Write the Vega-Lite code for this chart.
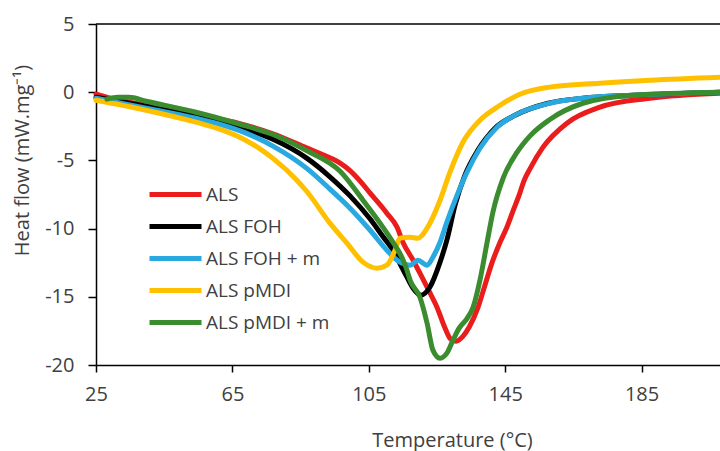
{
  "$schema": "https://vega.github.io/schema/vega-lite/v6.json",
  "width": 624,
  "height": 341,
  "autosize": {"type": "none"},
  "padding": {"left": 96, "top": 24, "right": 0, "bottom": 86},
  "background": "white",
  "config": {
    "view": {"stroke": null},
    "font": "Open Sans",
    "axis": {
      "grid": false,
      "domainColor": "black",
      "domainWidth": 1.5,
      "tickColor": "black",
      "tickWidth": 1.5,
      "labelFlush": false,
      "labelFont": "Open Sans",
      "labelFontSize": 20,
      "labelColor": "#404040",
      "titleFont": "Open Sans",
      "titleFontSize": 20,
      "titleFontWeight": "normal",
      "titleColor": "#404040"
    },
    "legend": {
      "orient": "none",
      "legendX": 51,
      "legendY": 155,
      "symbolType": "M-1,0H3",
      "symbolSize": 676,
      "symbolStrokeWidth": 5,
      "labelOffset": 28,
      "rowPadding": 6,
      "labelFont": "Open Sans",
      "labelFontSize": 19,
      "labelColor": "#404040",
      "title": null
    }
  },
  "layer": [
    {
      "data": {"values": [{"top": 5}]},
      "mark": {"type": "rule", "color": "black", "strokeWidth": 1.5},
      "encoding": {"y": {"field": "top", "type": "quantitative"}}
    },
    {
      "data": {"values": [
        {"s": "ALS", "T": 25, "H": -0.15},
        {"s": "ALS", "T": 29.1, "H": -0.44},
        {"s": "ALS", "T": 39.7, "H": -0.95},
        {"s": "ALS", "T": 54.3, "H": -1.69},
        {"s": "ALS", "T": 67.2, "H": -2.3},
        {"s": "ALS", "T": 76.9, "H": -3.05},
        {"s": "ALS", "T": 86.9, "H": -4.1},
        {"s": "ALS", "T": 93.6, "H": -4.8},
        {"s": "ALS", "T": 96.6, "H": -5.2},
        {"s": "ALS", "T": 99.5, "H": -5.75},
        {"s": "ALS", "T": 102.4, "H": -6.5},
        {"s": "ALS", "T": 105.4, "H": -7.4},
        {"s": "ALS", "T": 110.3, "H": -8.87},
        {"s": "ALS", "T": 113.3, "H": -9.9},
        {"s": "ALS", "T": 115.0, "H": -11.0},
        {"s": "ALS", "T": 118.0, "H": -12.32},
        {"s": "ALS", "T": 120.0, "H": -13.27},
        {"s": "ALS", "T": 122.5, "H": -14.5},
        {"s": "ALS", "T": 125.0, "H": -15.76},
        {"s": "ALS", "T": 127.2, "H": -17.2},
        {"s": "ALS", "T": 129.0, "H": -18.1},
        {"s": "ALS", "T": 130.6, "H": -18.25},
        {"s": "ALS", "T": 132.6, "H": -17.9},
        {"s": "ALS", "T": 134.5, "H": -17.2},
        {"s": "ALS", "T": 137.0, "H": -15.8},
        {"s": "ALS", "T": 139.0, "H": -14.2},
        {"s": "ALS", "T": 141.0, "H": -12.6},
        {"s": "ALS", "T": 143.5, "H": -11.0},
        {"s": "ALS", "T": 145.5, "H": -9.9},
        {"s": "ALS", "T": 147.3, "H": -8.7},
        {"s": "ALS", "T": 149.3, "H": -7.4},
        {"s": "ALS", "T": 150.5, "H": -6.5},
        {"s": "ALS", "T": 152.3, "H": -5.6},
        {"s": "ALS", "T": 156.1, "H": -4.03},
        {"s": "ALS", "T": 163.1, "H": -2.27},
        {"s": "ALS", "T": 172.8, "H": -1.1},
        {"s": "ALS", "T": 187.5, "H": -0.44},
        {"s": "ALS", "T": 208, "H": -0.07},

        {"s": "ALS FOH", "T": 25, "H": -0.37},
        {"s": "ALS FOH", "T": 39.7, "H": -1.03},
        {"s": "ALS FOH", "T": 54.3, "H": -1.76},
        {"s": "ALS FOH", "T": 69.0, "H": -2.7},
        {"s": "ALS FOH", "T": 76.9, "H": -3.45},
        {"s": "ALS FOH", "T": 86.9, "H": -4.85},
        {"s": "ALS FOH", "T": 93.6, "H": -6.2},
        {"s": "ALS FOH", "T": 99.5, "H": -7.6},
        {"s": "ALS FOH", "T": 105.4, "H": -9.3},
        {"s": "ALS FOH", "T": 109.2, "H": -10.6},
        {"s": "ALS FOH", "T": 112.1, "H": -11.58},
        {"s": "ALS FOH", "T": 114.1, "H": -12.54},
        {"s": "ALS FOH", "T": 116.2, "H": -13.56},
        {"s": "ALS FOH", "T": 118.0, "H": -14.37},
        {"s": "ALS FOH", "T": 120.3, "H": -14.88},
        {"s": "ALS FOH", "T": 122.9, "H": -14.3},
        {"s": "ALS FOH", "T": 125.9, "H": -12.46},
        {"s": "ALS FOH", "T": 127.9, "H": -10.85},
        {"s": "ALS FOH", "T": 130.3, "H": -8.28},
        {"s": "ALS FOH", "T": 133.2, "H": -6.08},
        {"s": "ALS FOH", "T": 137.0, "H": -4.25},
        {"s": "ALS FOH", "T": 142.0, "H": -2.64},
        {"s": "ALS FOH", "T": 147.9, "H": -1.69},
        {"s": "ALS FOH", "T": 157.6, "H": -0.81},
        {"s": "ALS FOH", "T": 167.8, "H": -0.44},
        {"s": "ALS FOH", "T": 182.5, "H": -0.22},
        {"s": "ALS FOH", "T": 208, "H": 0},

        {"s": "ALS FOH + m", "T": 25, "H": -0.44},
        {"s": "ALS FOH + m", "T": 39.7, "H": -1.17},
        {"s": "ALS FOH + m", "T": 54.3, "H": -1.91},
        {"s": "ALS FOH + m", "T": 61.7, "H": -2.38},
        {"s": "ALS FOH + m", "T": 69.0, "H": -3.0},
        {"s": "ALS FOH + m", "T": 76.9, "H": -3.95},
        {"s": "ALS FOH + m", "T": 86.9, "H": -5.6},
        {"s": "ALS FOH + m", "T": 93.6, "H": -7.1},
        {"s": "ALS FOH + m", "T": 99.5, "H": -8.5},
        {"s": "ALS FOH + m", "T": 105.4, "H": -10.12},
        {"s": "ALS FOH + m", "T": 110.3, "H": -11.58},
        {"s": "ALS FOH + m", "T": 114.1, "H": -12.46},
        {"s": "ALS FOH + m", "T": 117.1, "H": -12.68},
        {"s": "ALS FOH + m", "T": 119.4, "H": -12.32},
        {"s": "ALS FOH + m", "T": 122.1, "H": -12.68},
        {"s": "ALS FOH + m", "T": 123.8, "H": -12.1},
        {"s": "ALS FOH + m", "T": 125.9, "H": -11.0},
        {"s": "ALS FOH + m", "T": 127.9, "H": -9.53},
        {"s": "ALS FOH + m", "T": 130.9, "H": -7.55},
        {"s": "ALS FOH + m", "T": 133.8, "H": -5.87},
        {"s": "ALS FOH + m", "T": 137.6, "H": -4.11},
        {"s": "ALS FOH + m", "T": 142.6, "H": -2.57},
        {"s": "ALS FOH + m", "T": 148.5, "H": -1.61},
        {"s": "ALS FOH + m", "T": 158.1, "H": -0.81},
        {"s": "ALS FOH + m", "T": 167.8, "H": -0.44},
        {"s": "ALS FOH + m", "T": 182.5, "H": -0.22},
        {"s": "ALS FOH + m", "T": 208, "H": 0},

        {"s": "ALS pMDI", "T": 25, "H": -0.59},
        {"s": "ALS pMDI", "T": 39.7, "H": -1.32},
        {"s": "ALS pMDI", "T": 54.3, "H": -2.2},
        {"s": "ALS pMDI", "T": 61.7, "H": -2.75},
        {"s": "ALS pMDI", "T": 68.7, "H": -3.5},
        {"s": "ALS pMDI", "T": 73.1, "H": -4.15},
        {"s": "ALS pMDI", "T": 76.9, "H": -4.85},
        {"s": "ALS pMDI", "T": 83.9, "H": -6.45},
        {"s": "ALS pMDI", "T": 86.9, "H": -7.3},
        {"s": "ALS pMDI", "T": 93.6, "H": -9.6},
        {"s": "ALS pMDI", "T": 98.6, "H": -11.07},
        {"s": "ALS pMDI", "T": 103.3, "H": -12.46},
        {"s": "ALS pMDI", "T": 107.4, "H": -12.9},
        {"s": "ALS pMDI", "T": 110.3, "H": -12.68},
        {"s": "ALS pMDI", "T": 112.7, "H": -11.58},
        {"s": "ALS pMDI", "T": 114.1, "H": -10.7},
        {"s": "ALS pMDI", "T": 117.1, "H": -10.63},
        {"s": "ALS pMDI", "T": 119.4, "H": -10.7},
        {"s": "ALS pMDI", "T": 122.1, "H": -9.97},
        {"s": "ALS pMDI", "T": 125.9, "H": -7.92},
        {"s": "ALS pMDI", "T": 128.8, "H": -5.87},
        {"s": "ALS pMDI", "T": 132.6, "H": -3.67},
        {"s": "ALS pMDI", "T": 137.6, "H": -2.05},
        {"s": "ALS pMDI", "T": 142.6, "H": -1.1},
        {"s": "ALS pMDI", "T": 149.3, "H": -0.15},
        {"s": "ALS pMDI", "T": 158.1, "H": 0.37},
        {"s": "ALS pMDI", "T": 172.8, "H": 0.66},
        {"s": "ALS pMDI", "T": 187.5, "H": 0.88},
        {"s": "ALS pMDI", "T": 208, "H": 1.1},

        {"s": "ALS pMDI + m", "T": 28.2, "H": -0.51},
        {"s": "ALS pMDI + m", "T": 31.5, "H": -0.37},
        {"s": "ALS pMDI + m", "T": 34.7, "H": -0.37},
        {"s": "ALS pMDI + m", "T": 39.7, "H": -0.66},
        {"s": "ALS pMDI + m", "T": 54.3, "H": -1.47},
        {"s": "ALS pMDI + m", "T": 67.2, "H": -2.35},
        {"s": "ALS pMDI + m", "T": 76.9, "H": -3.1},
        {"s": "ALS pMDI + m", "T": 86.9, "H": -4.3},
        {"s": "ALS pMDI + m", "T": 96.6, "H": -5.8},
        {"s": "ALS pMDI + m", "T": 103.3, "H": -7.92},
        {"s": "ALS pMDI + m", "T": 108.3, "H": -9.6},
        {"s": "ALS pMDI + m", "T": 112.1, "H": -11.0},
        {"s": "ALS pMDI + m", "T": 114.7, "H": -12.1},
        {"s": "ALS pMDI + m", "T": 116.2, "H": -13.05},
        {"s": "ALS pMDI + m", "T": 117.1, "H": -13.78},
        {"s": "ALS pMDI + m", "T": 120.0, "H": -15.03},
        {"s": "ALS pMDI + m", "T": 122.1, "H": -16.94},
        {"s": "ALS pMDI + m", "T": 123.8, "H": -18.91},
        {"s": "ALS pMDI + m", "T": 125.9, "H": -19.5},
        {"s": "ALS pMDI + m", "T": 127.9, "H": -19.13},
        {"s": "ALS pMDI + m", "T": 129.7, "H": -18.18},
        {"s": "ALS pMDI + m", "T": 131.5, "H": -17.3},
        {"s": "ALS pMDI + m", "T": 133.8, "H": -16.6},
        {"s": "ALS pMDI + m", "T": 135.6, "H": -15.76},
        {"s": "ALS pMDI + m", "T": 137.6, "H": -13.78},
        {"s": "ALS pMDI + m", "T": 139.7, "H": -11.0},
        {"s": "ALS pMDI + m", "T": 141.4, "H": -8.8},
        {"s": "ALS pMDI + m", "T": 144.4, "H": -6.3},
        {"s": "ALS pMDI + m", "T": 148.5, "H": -4.4},
        {"s": "ALS pMDI + m", "T": 152.3, "H": -3.2},
        {"s": "ALS pMDI + m", "T": 158.1, "H": -2.0},
        {"s": "ALS pMDI + m", "T": 167.8, "H": -0.81},
        {"s": "ALS pMDI + m", "T": 182.5, "H": -0.22},
        {"s": "ALS pMDI + m", "T": 208, "H": 0}
      ]},
      "mark": {"type": "line", "strokeWidth": 5, "interpolate": "monotone", "strokeCap": "round", "strokeJoin": "round"},
      "encoding": {
        "x": {
          "field": "T", "type": "quantitative",
          "scale": {"domain": [25, 208], "nice": false, "zero": false},
          "axis": {
            "values": [25, 65, 105, 145, 185],
            "tickSize": 7,
            "labelPadding": 12,
            "title": "Temperature (°C)",
            "titleX": 356,
            "titleY": 81,
            "titleAlign": "center",
            "titleBaseline": "alphabetic"
          }
        },
        "y": {
          "field": "H", "type": "quantitative",
          "scale": {"domain": [-20, 5], "nice": false, "zero": false},
          "axis": {
            "values": [-20, -15, -10, -5, 0, 5],
            "labelExpr": "'' + datum.value",
            "tickSize": 8,
            "labelPadding": 14,
            "title": "Heat flow (mW.mg⁻¹)",
            "titleAngle": 270,
            "titleX": -74,
            "titleY": 136,
            "titleAlign": "center",
            "titleBaseline": "middle"
          }
        },
        "color": {
          "field": "s", "type": "nominal",
          "scale": {
            "domain": ["ALS", "ALS FOH", "ALS FOH + m", "ALS pMDI", "ALS pMDI + m"],
            "range": ["#ea1c1c", "#000000", "#2aa8e0", "#ffc000", "#3a8c2e"]
          },
          "legend": {"title": null}
        }
      }
    }
  ]
}
